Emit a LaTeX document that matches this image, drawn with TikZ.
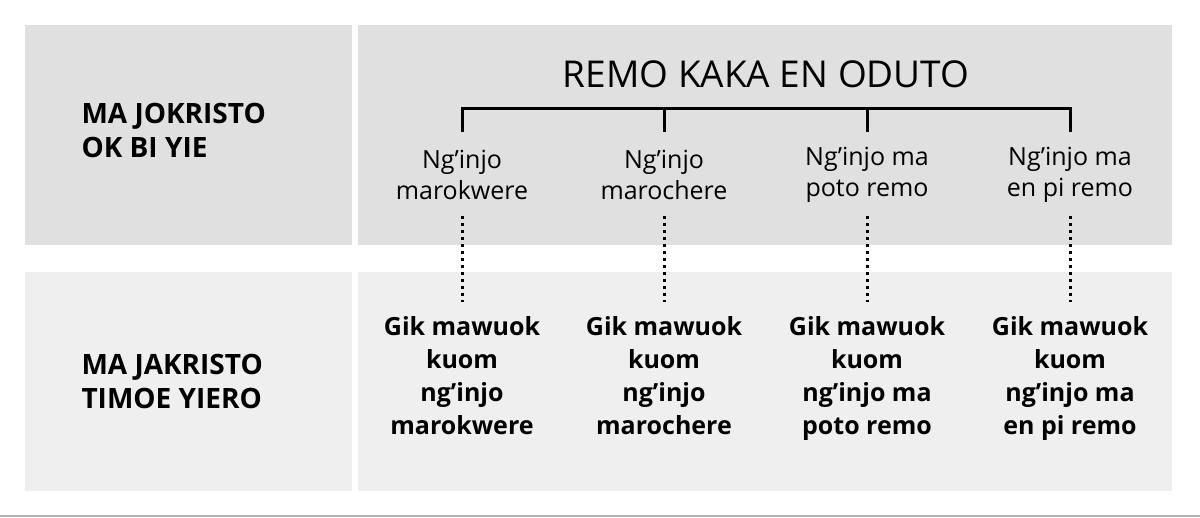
\documentclass[tikz,border=0pt]{standalone}
\usepackage{fontspec}
\setmainfont{Open Sans}
\usepackage{tikz}

\definecolor{bandtop}{HTML}{E0E0E0}
\definecolor{bandbot}{HTML}{EFEFEF}

\begin{document}
\begin{tikzpicture}[x=1pt,y=-1pt,
    rowlabel/.style={font=\fontsize{28}{34}\selectfont\bfseries,align=left,anchor=west},
    kind/.style={font=\fontsize{25}{31}\selectfont,align=center},
    deed/.style={font=\fontsize{25}{33}\selectfont\bfseries,align=center,anchor=north}]
        \useasboundingbox (0,0) rectangle (1200,517);
        \fill[white] (0,0) rectangle (1200,517);
        % bands
        \fill[bandtop] (25,25) rectangle (352,245);
        \fill[bandtop] (358,25) rectangle (1172,245);
        \fill[bandbot] (25,272) rectangle (352,491);
        \fill[bandbot] (358,272) rectangle (1172,491);
        \draw[gray!60,line width=1.5pt] (0,516) -- (1200,516);

        \node[rowlabel] (top) at (78,130)     {MA JOKRISTO\\OK BI YIE};
        \node[rowlabel] (bot) at (78,381)     {MA JAKRISTO\\TIMOE YIERO};

        \node[font=\fontsize{37}{40}\selectfont] (head) at (766,74)     {REMO KAKA EN ODUTO};
        \coordinate (bl) at (462,108);
        \coordinate (br) at (1070,108);
        \draw[line width=3pt] (bl) -- (br);

        \node[kind,inner sep=2pt] (k1) at (462,175)     {Ng’injo\\marokwere};
        \node[kind,inner sep=2pt] (k2) at (664,175)     {Ng’injo\\marochere};
        \node[kind,inner sep=2pt] (k3) at (867,175)     {Ng’injo ma\\poto remo};
        \node[kind,inner sep=2pt] (k4) at (1070,175)     {Ng’injo ma\\en pi remo};

        \node[deed] (d1) at (462,313)     {Gik mawuok\\kuom\\ng’injo\\marokwere};
        \node[deed] (d2) at (664,313)     {Gik mawuok\\kuom\\ng’injo\\marochere};
        \node[deed] (d3) at (867,313)     {Gik mawuok\\kuom\\ng’injo ma\\poto remo};
        \node[deed] (d4) at (1070,313)     {Gik mawuok\\kuom\\ng’injo ma\\en pi remo};

        \foreach \i/\x in {1/462,2/664,3/867,4/1070} {
            \draw[line width=3pt] (\x,107) -- (\x,132);
            \draw[line width=3pt,dash pattern=on 3pt off 4pt] (\x,216) -- (\x,302);
        }
\end{tikzpicture}
\end{document}
